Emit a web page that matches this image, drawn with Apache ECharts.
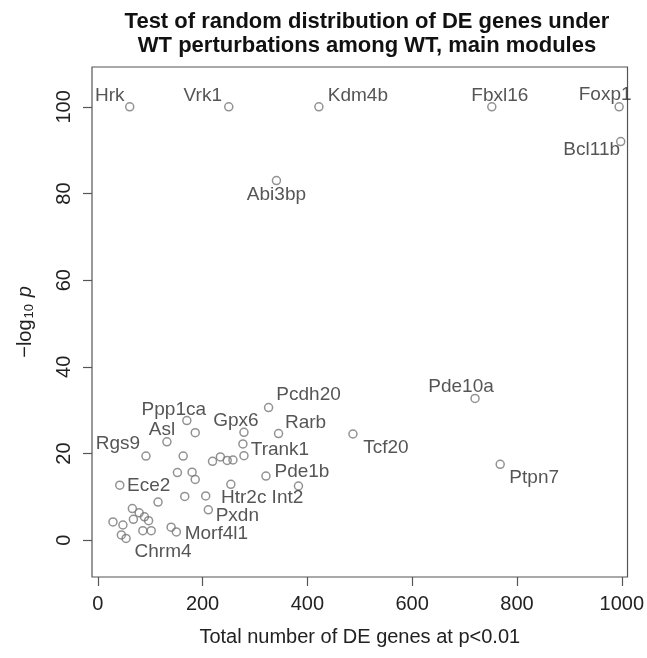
<!DOCTYPE html>
<html>
<head>
<meta charset="utf-8">
<script src="https://cdn.jsdelivr.net/npm/echarts@6/dist/echarts.min.js"></script>
<style>html,body{margin:0;padding:0;background:#fff}#c{width:647px;height:658px}</style>
</head>
<body>
<div id="c"></div>
<script>
// ---- data ----
const geneNames = ['Hrk','Vrk1','Kdm4b','Fbxl16','Foxp1','Bcl11b','Abi3bp','Pde10a','Tcf20','Ptpn7',
  'Pcdh20','Ppp1ca','Asl','Gpx6','Rarb','Rgs9','Trank1','Pde1b','Ece2','Htr2c','Int2','Pxdn','Morf4l1','Chrm4',
  '','','','','','','','','','','','','','','','','','','','','','','',''];
const deGenes = [61,250,422,752,995,998,341,720,487,768,
  326,170,132,279,345,92,279,321,42,206,383,211,150,54,
  186,277,163,219,234,247,258,152,180,186,254,166,115,66,79,68,89,97,29,48,86,102,45,140];
const negLogP = [100,100,100,100,100,92,83,32.7,24.5,17.5,
  30.6,27.6,22.7,24.9,24.6,19.4,19.5,14.8,12.7,10.2,12.5,7.0,1.9,0.4,
  24.8,22.2,19.4,18.2,19.2,18.4,18.5,15.6,15.7,14.0,12.9,10.1,8.8,7.3,6.3,4.8,5.4,4.5,4.2,3.5,2.2,2.2,1.2,3.0];
const xTicks = [0,200,400,600,800,1000];
const yTicks = [0,20,40,60,80,100];

// ---- label placement (style) ----
const labelShift = {
  Hrk:[-20,-11], Vrk1:[-26,-11], Kdm4b:[39,-11], Fbxl16:[8,-11], Foxp1:[-14,-12], Bcl11b:[-29,8],
  Abi3bp:[0,14], Pde10a:[-14,-12], Tcf20:[33,14], Ptpn7:[34,13], Pcdh20:[40,-13], Ppp1ca:[-13,-11],
  Asl:[-5,-12], Gpx6:[-8,-12], Rarb:[27,-11], Rgs9:[-28,-12], Trank1:[36,-6], Pde1b:[36,-4],
  Ece2:[29,1], Htr2c:[38,2], Int2:[-11,12], Pxdn:[29,6], Morf4l1:[40,2], Chrm4:[37,13]
};

const FONT = 'Liberation Sans, Arial, Helvetica, sans-serif';
const points = deGenes.map((x, i) => {
  const nm = geneNames[i];
  const item = { name: nm, value: [x, negLogP[i]] };
  if (nm) item.label = { show: true };
  return item;
});

const chart = echarts.init(document.getElementById('c'), null, { renderer: 'canvas' });
chart.setOption({
  animation: false,
  backgroundColor: '#fff',
  title: {
    text: 'Test of random distribution of DE genes under\nWT perturbations among WT, main modules',
    left: 362, top: 5, textAlign: 'center',
    textStyle: { fontFamily: FONT, fontWeight: 'bold', fontSize: 22, lineHeight: 24, color: '#111' }
  },
  grid: { left: 92, right: 15, top: 67, bottom: 81, show: true, borderColor: '#555', borderWidth: 1.2, backgroundColor: 'transparent' },
  xAxis: {
    type: 'value', min: -11, max: 1011,
    name: 'Total number of DE genes at p<0.01', nameLocation: 'middle', nameGap: 50,
    nameTextStyle: { fontFamily: FONT, fontSize: 20, color: '#222' },
    axisLine: { show: false, onZero: false },
    splitLine: { show: false },
    axisTick: { show: true, customValues: xTicks, length: 9, lineStyle: { color: '#555', width: 1.2 } },
    axisLabel: { customValues: xTicks, margin: 17, fontFamily: FONT, fontSize: 20, color: '#222',
      formatter: v => String(v) }
  },
  yAxis: {
    type: 'value', min: -8.5, max: 109.2,
    name: '{a|−log}{s|10}{a| }{i|p}', nameLocation: 'middle', nameGap: 56, nameRotate: 90,
    nameTextStyle: {
      fontFamily: FONT, fontSize: 20, color: '#222',
      rich: {
        a: { fontFamily: FONT, fontSize: 20, color: '#222' },
        s: { fontFamily: FONT, fontSize: 13, color: '#222', padding: [9, 1, 0, 1] },
        i: { fontFamily: FONT, fontSize: 20, fontStyle: 'italic', color: '#222' }
      }
    },
    axisLine: { show: false, onZero: false },
    splitLine: { show: false },
    axisTick: { show: true, customValues: yTicks, length: 9, lineStyle: { color: '#555', width: 1.2 } },
    axisLabel: { customValues: yTicks, rotate: 90, margin: 18, fontFamily: FONT, fontSize: 20, color: '#222',
      formatter: v => String(v) }
  },
  series: [{
    type: 'scatter',
    symbol: 'circle',
    symbolSize: 8,
    itemStyle: { color: 'rgba(0,0,0,0)', borderColor: '#777', borderWidth: 1.5 },
    label: {
      show: false, position: 'inside', formatter: '{b}',
      fontFamily: FONT, fontSize: 19, color: '#2a2a2a'
    },
    labelLayout: function (p) {
      const s = labelShift[geneNames[p.dataIndex]] || [0, 0];
      return { dx: s[0], dy: s[1], hideOverlap: false };
    },
    emphasis: { disabled: true },
    data: points
  }]
});
</script>
</body>
</html>
